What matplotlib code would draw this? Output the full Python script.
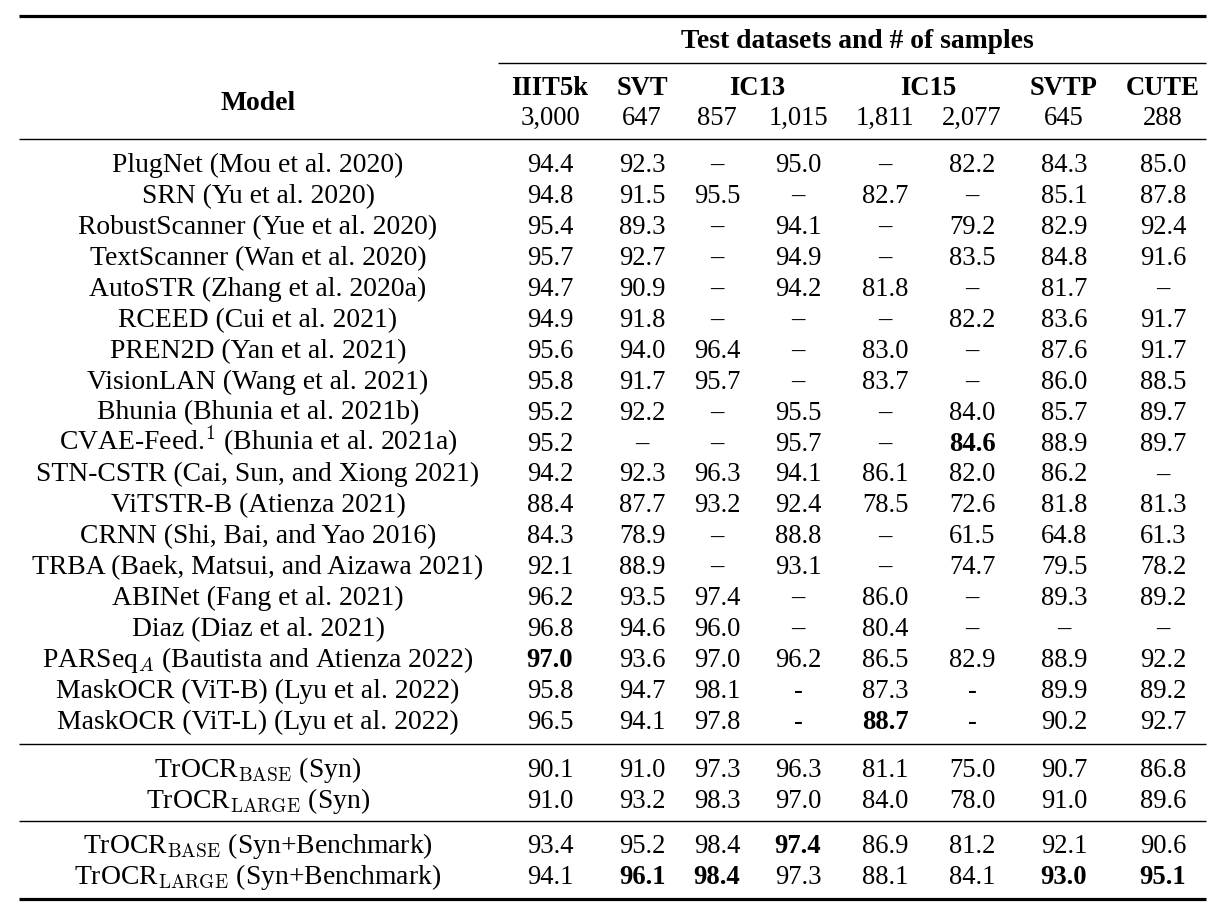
import matplotlib
matplotlib.use("Agg")
import matplotlib.pyplot as plt

plt.rcParams['font.family'] = ['Liberation Serif', 'DejaVu Serif']
plt.rcParams['mathtext.fontset'] = 'cm'

# ---------------- data ----------------
header_title = "Test datasets and # of samples"
dataset_groups = ["IIIT5k", "SVT", "IC13", "IC15", "SVTP", "CUTE"]
group_spans = [(0, 0), (1, 1), (2, 3), (4, 5), (6, 6), (7, 7)]
sample_counts = ["3,000", "647", "857", "1,015", "1,811", "2,077", "645", "288"]

models = [
    "PlugNet (Mou et al. 2020)",
    "SRN (Yu et al. 2020)",
    "RobustScanner (Yue et al. 2020)",
    "TextScanner (Wan et al. 2020)",
    "AutoSTR (Zhang et al. 2020a)",
    "RCEED (Cui et al. 2021)",
    "PREN2D (Yan et al. 2021)",
    "VisionLAN (Wang et al. 2021)",
    "Bhunia (Bhunia et al. 2021b)",
    "CVAE-Feed.$^{1}$ (Bhunia et al. 2021a)",
    "STN-CSTR (Cai, Sun, and Xiong 2021)",
    "ViTSTR-B (Atienza 2021)",
    "CRNN (Shi, Bai, and Yao 2016)",
    "TRBA (Baek, Matsui, and Aizawa 2021)",
    "ABINet (Fang et al. 2021)",
    "Diaz (Diaz et al. 2021)",
    "PARSeq$_{A}$ (Bautista and Atienza 2022)",
    "MaskOCR (ViT-B) (Lyu et al. 2022)",
    "MaskOCR (ViT-L) (Lyu et al. 2022)",
    "TrOCR$_{\\mathrm{BASE}}$ (Syn)",
    "TrOCR$_{\\mathrm{LARGE}}$ (Syn)",
    "TrOCR$_{\\mathrm{BASE}}$ (Syn+Benchmark)",
    "TrOCR$_{\\mathrm{LARGE}}$ (Syn+Benchmark)",
]
row_groups = [0] * 19 + [1, 1] + [2, 2]

iiit5k = ["94.4", "94.8", "95.4", "95.7", "94.7", "94.9", "95.6", "95.8", "95.2", "95.2",
          "94.2", "88.4", "84.3", "92.1", "96.2", "96.8", "97.0", "95.8", "96.5",
          "90.1", "91.0", "93.4", "94.1"]
svt = ["92.3", "91.5", "89.3", "92.7", "90.9", "91.8", "94.0", "91.7", "92.2", "–",
       "92.3", "87.7", "78.9", "88.9", "93.5", "94.6", "93.6", "94.7", "94.1",
       "91.0", "93.2", "95.2", "96.1"]
ic13_857 = ["–", "95.5", "–", "–", "–", "–", "96.4", "95.7", "–", "–",
            "96.3", "93.2", "–", "–", "97.4", "96.0", "97.0", "98.1", "97.8",
            "97.3", "98.3", "98.4", "98.4"]
ic13_1015 = ["95.0", "–", "94.1", "94.9", "94.2", "–", "–", "–", "95.5", "95.7",
             "94.1", "92.4", "88.8", "93.1", "–", "–", "96.2", "-", "-",
             "96.3", "97.0", "97.4", "97.3"]
ic15_1811 = ["–", "82.7", "–", "–", "81.8", "–", "83.0", "83.7", "–", "–",
             "86.1", "78.5", "–", "–", "86.0", "80.4", "86.5", "87.3", "88.7",
             "81.1", "84.0", "86.9", "88.1"]
ic15_2077 = ["82.2", "–", "79.2", "83.5", "–", "82.2", "–", "–", "84.0", "84.6",
             "82.0", "72.6", "61.5", "74.7", "–", "–", "82.9", "-", "-",
             "75.0", "78.0", "81.2", "84.1"]
svtp = ["84.3", "85.1", "82.9", "84.8", "81.7", "83.6", "87.6", "86.0", "85.7", "88.9",
        "86.2", "81.8", "64.8", "79.5", "89.3", "–", "88.9", "89.9", "90.2",
        "90.7", "91.0", "92.1", "93.0"]
cute = ["85.0", "87.8", "92.4", "91.6", "–", "91.7", "91.7", "88.5", "89.7", "89.7",
        "–", "81.3", "61.3", "78.2", "89.2", "–", "92.2", "89.2", "92.7",
        "86.8", "89.6", "90.6", "95.1"]
columns = [iiit5k, svt, ic13_857, ic13_1015, ic15_1811, ic15_2077, svtp, cute]

# (row, column) cells printed in bold
bold_cells = [(16, 0), (9, 5), (18, 4), (21, 3), (22, 1), (22, 2), (22, 6), (22, 7)]

# ---------------- layout ----------------
W, H = 1224, 920
fig = plt.figure(figsize=(W / 100, H / 100), dpi=100)
ax = fig.add_axes([0, 0, 1, 1])
ax.set_xlim(0, W)
ax.set_ylim(H, 0)
ax.axis('off')

FS = 19.2        # numbers and column headers
FS_TEXT = 19.9   # model names and wide headers
x_left, x_right = 19, 1206
model_x = 258
col_x = [550, 642, 717, 798, 885, 972, 1064, 1163]

y0 = 172
dy = 30.95
group_extra = {0: 0.0, 1: 17.0, 2: 31.0}
row_y = [y0 + i * dy + group_extra[g] for i, g in enumerate(row_groups)]

thick, thin = 2.3, 1.0
ax.plot([x_left, x_right], [17, 17], color='black', lw=thick, solid_capstyle='butt')
ax.plot([498, x_right], [64, 64], color='black', lw=thin, solid_capstyle='butt')
ax.plot([x_left, x_right], [140, 140], color='black', lw=thin, solid_capstyle='butt')
ax.plot([x_left, x_right], [745, 745], color='black', lw=thin, solid_capstyle='butt')
ax.plot([x_left, x_right], [822, 822], color='black', lw=thin, solid_capstyle='butt')
ax.plot([x_left, x_right], [900, 900], color='black', lw=thick, solid_capstyle='butt')

# header
ax.text(857, 48, header_title, ha='center', va='baseline', fontsize=FS_TEXT, fontweight='bold')
ax.text(model_x, 110, "Model", ha='center', va='baseline', fontsize=FS_TEXT, fontweight='bold')
for name, (a, b) in zip(dataset_groups, group_spans):
    xc = (col_x[a] + col_x[b]) / 2
    ax.text(xc, 95, name, ha='center', va='baseline', fontsize=FS, fontweight='bold')
for xc, cnt in zip(col_x, sample_counts):
    ax.text(xc, 125, cnt, ha='center', va='baseline', fontsize=FS)

# body
bold_set = set(bold_cells)
for i, (name, y) in enumerate(zip(models, row_y)):
    ax.text(model_x, y, name, ha='center', va='baseline', fontsize=FS_TEXT)
    for j, col in enumerate(columns):
        ax.text(col_x[j], y, col[i], ha='center', va='baseline', fontsize=FS,
                fontweight='bold' if (i, j) in bold_set else 'normal')

fig.savefig("out.png", dpi=100, facecolor='white')
